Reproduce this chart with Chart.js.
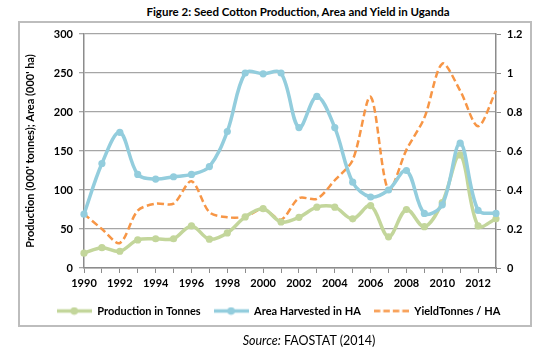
<!DOCTYPE html>
<html>
<head>
<meta charset="utf-8">
<script src="https://cdn.jsdelivr.net/npm/chart.js@4.4.1/dist/chart.umd.min.js"></script>
<style>
  html, body { margin:0; padding:0; background:#fff; overflow:hidden; }
  #page { position:relative; width:557px; height:357px; }
  #frame { position:absolute; left:18px; top:21px; width:514px; height:306px; box-sizing:border-box; border:2px solid #bdbdbd; }
  #title { position:absolute; left:298px; top:5px; transform:translateX(-50%); white-space:nowrap;
           font:bold 11.5px Lato, sans-serif; color:#000; }
  #source { position:absolute; left:309px; top:333px; transform:translateX(-50%); white-space:nowrap;
           font:12.5px Lato, sans-serif; color:#000; }
  #wrap { position:absolute; left:0; top:0; width:557px; height:357px; }
</style>
</head>
<body>
<div id="page">
  <div id="frame"></div>
  <div id="title">Figure 2: Seed Cotton Production, Area and Yield in Uganda</div>
  <div id="wrap"><canvas id="c" width="557" height="357"></canvas></div>
  <div id="source"><i>Source:</i> FAOSTAT (2014)</div>
</div>
<script>
// ---- data ----
const years = ['1990','1991','1992','1993','1994','1995','1996','1997','1998','1999','2000','2001',
               '2002','2003','2004','2005','2006','2007','2008','2009','2010','2011','2012','2013'];
const tickLabels = ['1990','1992','1994','1996','1998','2000','2002','2004','2006','2008','2010','2012'];
const production = [19, 26, 21.5, 36, 37.5, 37.5, 54, 37, 45, 65.5, 76, 59,
                    65, 78, 78, 63, 80, 40, 75, 53, 84, 145, 54, 63];
const area = [69, 134, 174, 120, 114, 117, 120, 130, 175, 250, 249, 250,
              180, 220, 180, 110, 91, 100, 125, 70, 81, 160, 74, 70];
const yieldT = [0.277, 0.2, 0.128, 0.294, 0.33, 0.33, 0.445, 0.286, 0.26, 0.263, 0.303, 0.248,
                0.358, 0.355, 0.45, 0.554, 0.878, 0.398, 0.606, 0.77, 1.048, 0.909, 0.727, 0.909];
const seriesNames = ['Production in Tonnes', 'Area Harvested in HA', 'YieldTonnes / HA'];

const GREEN = '#c3d69b', BLUE = '#93cddd', ORANGE = '#f79646';
const AXIS = '#8c8c8c', GRID = '#a6a6a6';
const FONT = { family: 'Lato, sans-serif', size: 11, weight: 'bold' };

function legendIcon(color, marker, dash, lw) {
  const c = document.createElement('canvas');
  c.width = 35; c.height = 9;
  const g = c.getContext('2d');
  g.strokeStyle = color; g.lineWidth = lw;
  if (dash) g.setLineDash(dash);
  g.beginPath(); g.moveTo(0, 4.5); g.lineTo(35, 4.5); g.stroke();
  if (marker) { g.fillStyle = color; g.beginPath(); g.arc(17.5, 4.5, 3.8, 0, Math.PI * 2); g.fill(); }
  return c;
}
const icons = [legendIcon(GREEN, true, null, 3.5), legendIcon(BLUE, true, null, 3.5),
               legendIcon(ORANGE, false, [6.5, 3], 2.5)];

new Chart(document.getElementById('c'), {
  type: 'line',
  data: {
    labels: years,
    datasets: [
      { label: seriesNames[0], data: production, yAxisID: 'y', borderColor: GREEN, backgroundColor: GREEN,
        borderWidth: 3.5, pointRadius: 3.6, pointBorderWidth: 0, pointBackgroundColor: GREEN, tension: 0.35, order: 1 },
      { label: seriesNames[1], data: area, yAxisID: 'y', borderColor: BLUE, backgroundColor: BLUE,
        borderWidth: 3.5, pointRadius: 3.6, pointBorderWidth: 0, pointBackgroundColor: BLUE, tension: 0.35, order: 0 },
      { label: seriesNames[2], data: yieldT, yAxisID: 'y1', borderColor: ORANGE, backgroundColor: ORANGE,
        borderWidth: 2.5, borderDash: [7, 3.5], pointRadius: 0, tension: 0.3, order: 2 }
    ]
  },
  options: {
    responsive: false,
    animation: false,
    devicePixelRatio: 1,
    layout: { padding: { top: 34, bottom: 30.5, left: 0, right: 0 } },
    plugins: {
      title: { display: false },
      tooltip: { enabled: false },
      legend: {
        position: 'bottom',
        labels: {
          usePointStyle: true,
          pointStyleWidth: 35,
          padding: 13,
          color: '#000',
          font: FONT,
          generateLabels: (chart) => chart.data.datasets.map((ds, i) => ({
            text: ds.label, pointStyle: icons[i], datasetIndex: i,
            fillStyle: ds.borderColor, strokeStyle: ds.borderColor, lineWidth: 0, hidden: false, fontColor: '#000'
          }))
        }
      }
    },
    scales: {
      x: {
        type: 'category',
        offset: false,
        grid: { display: true, drawOnChartArea: false, drawTicks: true, tickLength: 5, color: AXIS, lineWidth: 1 },
        border: { display: true, color: AXIS, width: 1.5 },
        ticks: {
          autoSkip: false, maxRotation: 0, minRotation: 0, padding: 4, color: '#000', font: FONT,
          callback: function (v, i) { const l = years[i]; return tickLabels.includes(l) ? l : ''; }
        },
        afterFit: (s) => { s.height = 24.5; }
      },
      y: {
        position: 'left',
        min: 0, max: 300,
        ticks: { stepSize: 50, padding: 6, color: '#000', font: FONT },
        grid: { color: GRID, lineWidth: 1.3, tickLength: 5, drawTicks: true },
        border: { display: true, color: AXIS, width: 1.5 },
        title: { display: true, text: "Production (000' tonnes); Area (000' ha)", color: '#000', font: FONT,
                 padding: { top: 24, bottom: 0 } },
        afterFit: (s) => { s.width = 84; }
      },
      y1: {
        position: 'right',
        min: 0, max: 1.2,
        ticks: { stepSize: 0.2, padding: 6, color: '#000', font: FONT,
                 callback: (v) => String(Number(Number(v).toFixed(2))) },
        grid: { drawOnChartArea: false, tickLength: 5, drawTicks: true, color: AXIS, lineWidth: 1 },
        border: { display: true, color: AXIS, width: 1.5 },
        afterFit: (s) => { s.width = 61; }
      }
    }
  }
});
</script>
</body>
</html>
